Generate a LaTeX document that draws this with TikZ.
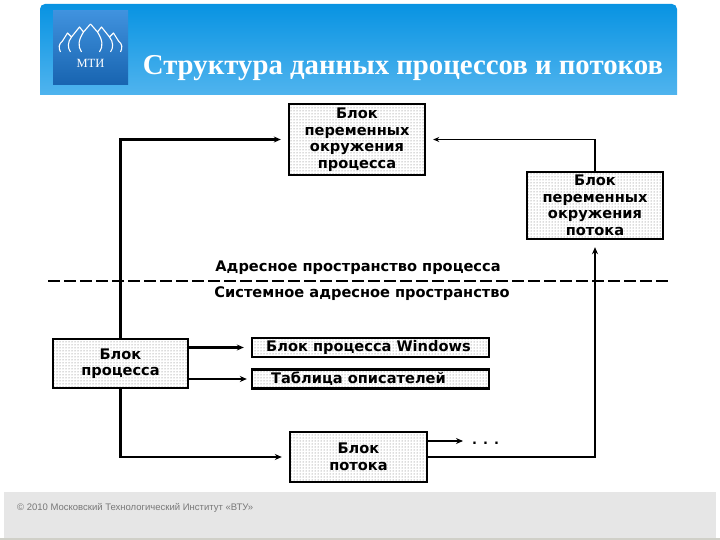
\documentclass[tikz,border=0pt]{standalone}
\usepackage{fontspec}
\setmainfont{Liberation Serif}
\newfontfamily\labelfont{DejaVu Sans}
\newfontfamily\footfont{Liberation Sans}
\usetikzlibrary{arrows.meta,positioning,calc,patterns}
\definecolor{headTop}{RGB}{8,147,226}
\definecolor{headBot}{RGB}{80,180,238}
\definecolor{logoTop}{RGB}{64,146,222}
\definecolor{logoBot}{RGB}{24,100,176}
\definecolor{footBar}{RGB}{230,230,230}
\definecolor{footLine}{RGB}{208,208,200}
\definecolor{footInk}{RGB}{120,120,120}

\begin{document}
\begin{tikzpicture}[x=1pt,y=-1pt,line cap=butt,
  blockbox/.style={draw=black,line width=2.4pt,pattern=dots,pattern color=black!60,
    font=\labelfont\bfseries\fontsize{14.6}{16.5}\selectfont,align=center,
    inner sep=0pt,text=black},
  conn/.style={-{Stealth[length=7pt,width=6pt]},line width=2.5pt,shorten >=7pt},
  connthin/.style={-{Stealth[length=6pt,width=5pt]},line width=1.8pt,shorten >=7pt},
  spacelabel/.style={font=\labelfont\bfseries\fontsize{14.6}{16}\selectfont},
  logoline/.style={white,line width=1.1pt,line join=round}]
  \useasboundingbox (0,0) rectangle (720,540);
  % header strip and logo
  \shade[top color=headTop,bottom color=headBot] (40,95) [rounded corners=5pt] -- (40,4) -- (677,4) [sharp corners] -- (677,95) -- cycle;
  \shade[top color=logoTop,bottom color=logoBot] (53,11) rectangle (128,85);
  \foreach \s in {1,-1} {
    \begin{scope}[shift={(90.5,0)},xscale=\s]
      \draw[logoline] (0,24) -- (7,32) -- (11,27) -- (19,37) -- (23,33) -- (28,41) .. controls (32,44) and (32,48) .. (30,52);
      \draw[logoline] (7,32) .. controls (12,40) and (13,46) .. (9,52);
      \draw[logoline] (19,37) .. controls (23,42) and (23,48) .. (20,52);
    \end{scope}
  }
  \node[text=white,font=\fontsize{12.5}{13}\selectfont] (logotext) at (90.5,63) {МТИ};
  \node[text=white,font=\bfseries\fontsize{28.8}{30}\selectfont,anchor=base] (title) at (403,75) {Структура данных процессов и потоков};
  % blocks
  \node[blockbox,minimum width=136pt,minimum height=71pt] (procvars) at (357,139.5) {Блок\\переменных\\окружения\\процесса};
  \node[blockbox,minimum width=136pt,minimum height=67pt] (threadvars) at (595,205.5) {Блок\\переменных\\окружения\\потока};
  \node[blockbox,minimum width=135pt,minimum height=49pt] (procblock) at (120.5,363.5) {Блок\\процесса};
  \node[blockbox,minimum width=237pt,minimum height=19pt] (winblock) at (370.5,347.5) {Блок процесса Windows\hspace*{4pt}};
  \node[blockbox,minimum width=237pt,minimum height=19pt] (handletable) at (370.5,379) {Таблица описателей\hspace*{24pt}};
  \node[blockbox,minimum width=137pt,minimum height=50pt] (threadblock) at (358.5,457) {Блок\\потока};
  % address spaces
  \node[spacelabel] (userspace) at (358,267.5) {Адресное пространство процесса};
  \node[spacelabel] (systemspace) at (362,294) {Системное адресное пространство};
  \coordinate (sepleft) at (48,281);
  \coordinate (sepright) at (670,281);
  \draw[black,line width=1.2pt,dash pattern=on 12pt off 4pt] (sepleft) -- (sepright);
  % connectors
  \draw[conn] (procblock.north) |- (procvars.west);
  \draw[connthin] (threadvars.north) |- (procvars.east);
  \draw[conn] (procblock.south) |- (threadblock.west);
  \draw[conn] (threadblock.east) -| (threadvars.south);
  \draw[conn,shorten >=7pt] (procblock.east |- winblock) -- (winblock.west);
  \draw[conn,shorten >=4pt] (procblock.east |- handletable) -- (handletable.west);
  \coordinate (threadnext) at (463,441);
  \draw[conn,shorten >=0pt,line width=1.8pt] (threadblock.east |- threadnext) -- (threadnext);
  \node[font=\labelfont\bfseries\fontsize{13}{13}\selectfont,anchor=base west,inner sep=0pt] (nextdots) at (472,444) {. . .};
  % footer
  \fill[footBar] (4,492) rectangle (716,538);
  \fill[footLine] (0,538) rectangle (720,540);
  \node[font=\footfont\fontsize{9.5}{10}\selectfont,text=footInk,anchor=base west,inner sep=0pt] (copyright) at (17,510) {© 2010 Московский Технологический Институт «ВТУ»};
\end{tikzpicture}
\end{document}
